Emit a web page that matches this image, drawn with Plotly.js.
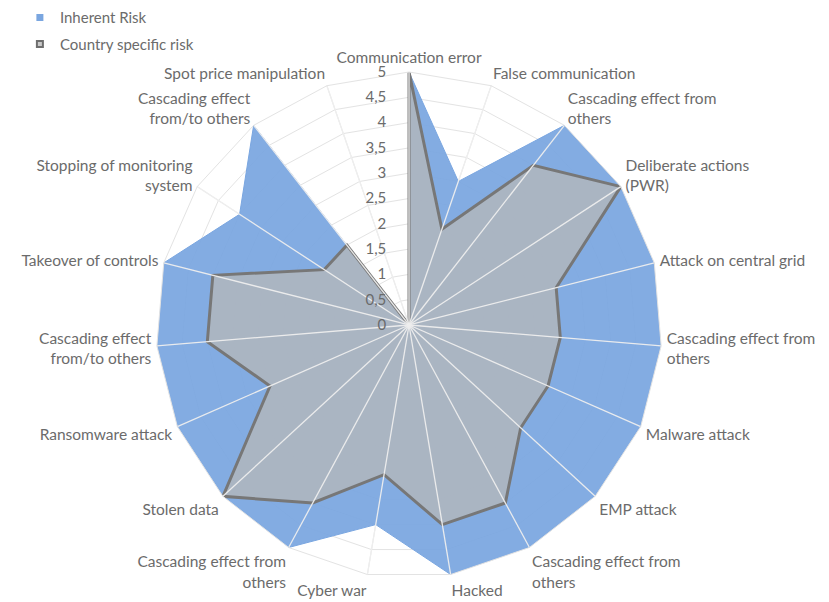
<!DOCTYPE html>
<html>
<head>
<meta charset="utf-8">
<script src="https://cdn.plot.ly/plotly-3.0.1.min.js"></script>
<style>html,body{margin:0;padding:0;background:#fff;}#chart{width:829px;height:602px;}</style>
</head>
<body>
<div id="chart"></div>
<script>
// Category labels (clockwise from top)
const categories = [
  "Communication error",
  "False communication",
  "Cascading effect from<br>others",
  "Deliberate actions<br>(PWR)",
  "Attack on central grid",
  "Cascading effect from<br>others",
  "Malware attack",
  "EMP attack",
  "Cascading effect from<br>others",
  "Hacked",
  "Cyber war",
  "Cascading effect from<br>others",
  "Stolen data",
  "Ransomware attack",
  "Cascading effect<br>from/to others",
  "Takeover of controls",
  "Stopping of monitoring<br>system",
  "Cascading effect<br>from/to others",
  "Spot price manipulation"
];
const inherentRisk = [5, 3, 5, 5, 5, 5, 5, 5, 5, 5, 4, 5, 5, 5, 5, 5, 4, 5, 0];
const countryRisk  = [5, 2, 4, 5, 3, 3, 3, 3, 4, 4, 3, 4, 5, 3, 4, 4, 2, 2, 0];
const radialTicks = [0, 0.5, 1, 1.5, 2, 2.5, 3, 3.5, 4, 4.5, 5];
const seriesNames = ["Inherent Risk", "Country specific risk"];

// unique keys so repeated labels stay separate categories
const keys = categories.map((c, i) => "k" + i);
const closeLoop = arr => arr.concat([arr[0]]);
const rMax = radialTicks[radialTicks.length - 1];

const spokeR = [], spokeT = [];
keys.forEach(k => { spokeR.push(0, rMax, null); spokeT.push(k, k, null); });

const BLUE = "rgb(122,166,224)";
const font = "Lato, 'Open Sans', sans-serif";
const txt = "#6b6b6b";

const data = [
  {type: "scatterpolar", r: closeLoop(inherentRisk), theta: closeLoop(keys), mode: "lines",
   fill: "toself", fillcolor: "rgba(122,166,224,0.93)", line: {color: BLUE, width: 1},
   showlegend: false, hoverinfo: "skip"},
  {type: "scatterpolar", r: closeLoop(countryRisk), theta: closeLoop(keys), mode: "lines",
   fill: "toself", fillcolor: "rgba(171,181,193,0.97)", line: {color: "#777777", width: 3},
   showlegend: false, hoverinfo: "skip"},
  {type: "scatterpolar", r: spokeR, theta: spokeT, mode: "lines",
   line: {color: "rgba(238,238,238,0.95)", width: 1.3}, connectgaps: false,
   showlegend: false, hoverinfo: "skip"},
  {type: "scatterpolar", r: [null], theta: [null], mode: "markers", name: seriesNames[0],
   legendgroup: "a", marker: {symbol: "square", size: 7, color: BLUE}},
  {type: "scatterpolar", r: [null], theta: [null], mode: "markers", name: seriesNames[1],
   legendgroup: "b", marker: {symbol: "square", size: 6, color: "#c9c9c9", line: {color: "#6e6e6e", width: 2}}}
];

const layout = {
  width: 829, height: 602,
  margin: {l: 0, r: 0, t: 0, b: 0},
  paper_bgcolor: "#fff",
  separators: ", ",
  font: {family: font, size: 15, color: txt},
  showlegend: true,
  legend: {x: 0.024, y: 0.998, xanchor: "left", yanchor: "top", itemwidth: 30,
           traceorder: "grouped", tracegroupgap: 4, font: {size: 15, color: txt}, bgcolor: "rgba(0,0,0,0)"},
  polar: {
    domain: {x: [0.1882, 0.7986], y: [0.0399, 0.8804]},
    bgcolor: "#fff",
    gridshape: "linear",
    angularaxis: {
      type: "category", direction: "clockwise", rotation: 90,
      tickmode: "array", tickvals: keys, ticktext: categories,
      showline: true, linecolor: "#e3e3e3", linewidth: 1,
      showgrid: true, gridcolor: "#e3e3e3",
      ticks: "outside", ticklen: 2, tickcolor: "rgba(0,0,0,0)",
      tickfont: {family: font, size: 15.5, color: txt}
    },
    radialaxis: {
      range: [0, rMax], angle: 90, side: "counterclockwise", tickangle: 90,
      tickmode: "array", tickvals: radialTicks,
      showline: false, ticks: "outside", ticklen: 17, tickcolor: "rgba(0,0,0,0)",
      showgrid: true, gridcolor: "#e3e3e3",
      tickfont: {family: font, size: 15, color: txt}
    }
  }
};

Plotly.newPlot("chart", data, layout, {displayModeBar: false, staticPlot: true});
</script>
</body>
</html>
